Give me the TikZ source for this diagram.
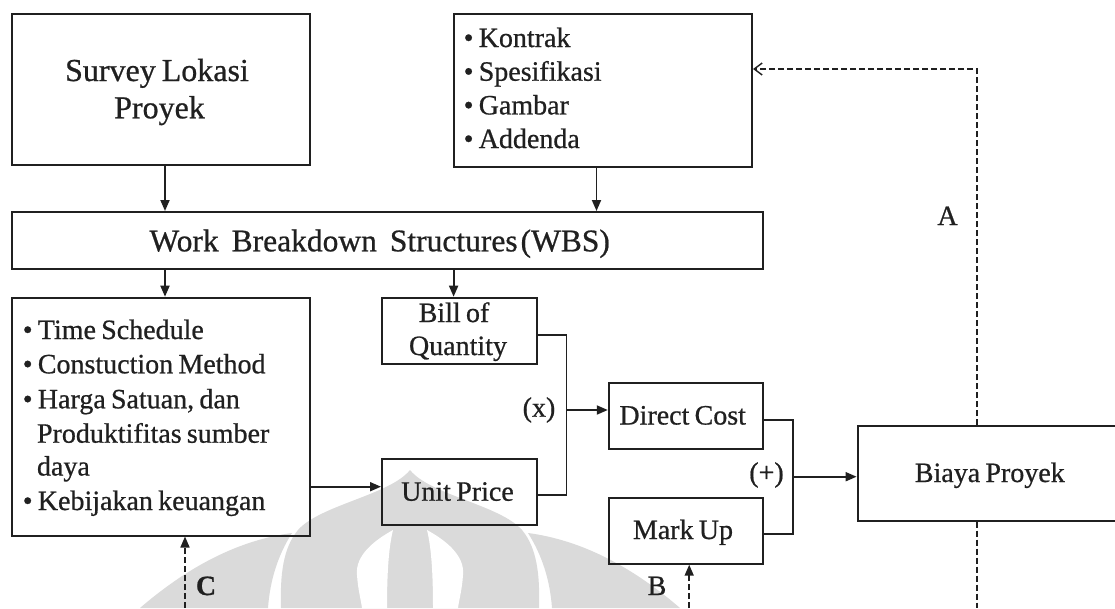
\documentclass[tikz,border=0pt]{standalone}
\usepackage{fontspec}
\setmainfont{Liberation Serif}[WordSpace=0.75,FakeBold=0.7]
\usetikzlibrary{arrows.meta}
\definecolor{ink}{RGB}{32,32,32}
\definecolor{wm}{RGB}{218,218,218}

\begin{document}
\begin{tikzpicture}[x=1pt,y=-1pt,
  box/.style={draw=ink, line width=2pt, inner sep=0pt, anchor=north west, rectangle},
  txt/.style={inner sep=0pt, text=ink, font=\fontsize{28}{34}\selectfont},
  lbl/.style={txt, anchor=base},
  link/.style={draw=ink, line width=1.8pt},
  arr/.style={link, -{Triangle[length=11pt,width=9pt]}},
  fb/.style={draw=ink, line width=1.6pt, dash pattern=on 6pt off 3pt},
  fbarr/.style={fb, -{Triangle[length=11pt,width=9pt]}},
  fbopen/.style={fb, -{Straight Barb[length=8pt,width=12pt,line width=1.4pt]}}
]
\useasboundingbox (0,0) rectangle (1115,608);
\clip (0,0) rectangle (1115,608);
\fill[white] (0,0) rectangle (1115,608);

% faint emblem in the background
\fill[wm] (410,470) .. controls (390,495) and (320,505) .. (298,530)
  .. controls (283,548) and (280,575) .. (281,608) -- (539,608)
  .. controls (540,575) and (537,548) .. (522,530)
  .. controls (500,505) and (430,495) .. (410,470) -- cycle;
\fill[white] (427,530) .. controls (445,540) and (465,555) .. (463,575)
  .. controls (462,590) and (459,600) .. (458,608) -- (433,608)
  .. controls (433,580) and (432,550) .. (427,530) -- cycle;
\fill[white] (393,530) .. controls (375,540) and (355,555) .. (357,575)
  .. controls (358,590) and (361,600) .. (362,608) -- (387,608)
  .. controls (387,580) and (388,550) .. (393,530) -- cycle;
\fill[wm] (140,608) .. controls (190,565) and (240,540) .. (292,533)
  .. controls (278,555) and (270,580) .. (268,608) -- cycle;
\fill[wm] (680,608) .. controls (630,565) and (580,540) .. (528,533)
  .. controls (542,555) and (550,580) .. (552,608) -- cycle;

% boxes
\node[box, minimum width=297.9pt, minimum height=151.6pt] (survey) at (11.4,12.7) {};
\node[box, minimum width=298.3pt, minimum height=153pt] (docs) at (452.7,12.7) {};
\node[box, minimum width=750.6pt, minimum height=57.3pt] (wbs) at (11.4,211) {};
\node[box, minimum width=297.9pt, minimum height=237.8pt] (sched) at (11.4,296.7) {};
\node[box, minimum width=154.7pt, minimum height=66.6pt] (boq) at (381,296.7) {};
\node[box, minimum width=154.7pt, minimum height=66pt] (unit) at (381,458.3) {};
\node[box, minimum width=154pt, minimum height=66pt] (direct) at (607.8,382.3) {};
\node[box, minimum width=154pt, minimum height=66pt] (markup) at (607.8,496.7) {};
\node[box, minimum width=280pt, minimum height=94.5pt] (biaya) at (856.6,425) {};

% box texts
\node[lbl, font=\fontsize{32}{38}\selectfont] (surveyA) at (157,81) {Survey Lokasi};
\node[lbl, font=\fontsize{32}{38}\selectfont] (surveyB) at (159.5,118.3) {Proyek};

\node[txt, anchor=base west] (d1) at (463.5,47) {• Kontrak};
\node[txt, anchor=base west] (d2) at (463.5,80.7) {• Spesifikasi};
\node[txt, anchor=base west] (d3) at (463.5,114.4) {• Gambar};
\node[txt, anchor=base west] (d4) at (463.5,148) {• Addenda};

\node[txt, anchor=base west, font=\fontsize{31.5}{38}\selectfont] (wbst) at (149.3,251.3)
  {Work\hspace{13pt}Breakdown\hspace{13pt}Structures\hspace{3pt}(WBS)};

\node[txt, anchor=base west] (s1) at (22.6,339) {• Time Schedule};
\node[txt, anchor=base west] (s2) at (22.6,373.3) {• Constuction Method};
\node[txt, anchor=base west] (s3) at (22.6,408.3) {• Harga Satuan, dan};
\node[txt, anchor=base west] (s4) at (36.8,442.7) {Produktifitas sumber};
\node[txt, anchor=base west] (s5) at (36.8,475.5) {daya};
\node[txt, anchor=base west] (s6) at (22.6,510) {• Kebijakan keuangan};

\node[lbl] (boqA) at (454,322) {Bill of};
\node[lbl] (boqB) at (458,355) {Quantity};
\node[lbl] (unitt) at (457.5,500.7) {Unit Price};
\node[lbl] (directt) at (682.7,424.5) {Direct Cost};
\node[lbl] (markupt) at (683,539) {Mark Up};
\node[lbl] (biayat) at (989.8,482) {Biaya Proyek};

% operator and feedback labels
\node[lbl] (times) at (539,416.7) {(x)};
\node[lbl] (plussign) at (766.5,481.7) {(+)};
\node[lbl] (la) at (947.5,225) {A};
\node[lbl, font=\fontsize{28}{34}\selectfont\bfseries] (lc) at (206,595) {C};
\node[lbl] (lb) at (657,595) {B};

% connector columns and rows
\coordinate (c1) at (165,0);
\coordinate (c2) at (596.5,0);
\coordinate (c3) at (453.6,0);
\coordinate (cC) at (185,608);
\coordinate (cB) at (689.2,608);
\coordinate (cA) at (977,608);
\coordinate (turnA) at (977,69);
\coordinate (mul) at (566.4,410);
\coordinate (plus) at (792.6,476.7);
\coordinate (r1) at (0,335);
\coordinate (r2) at (0,495);
\coordinate (r3) at (0,486.7);
\coordinate (r4) at (0,420);
\coordinate (r5) at (0,534);

% solid flow
\draw[arr] (c1 |- survey.south) -- (c1 |- wbs.north);
\draw[arr] (c2 |- docs.south) -- (c2 |- wbs.north);
\draw[arr] (c1 |- wbs.south) -- (c1 |- sched.north);
\draw[arr] (c3 |- wbs.south) -- (c3 |- boq.north);
\draw[arr] (sched.east |- r3) -- (unit.west |- r3);
\draw[link] (boq.east |- r1) -| (mul) |- (unit.east |- r2);
\draw[arr] (mul) -- (mul -| direct.west);
\draw[link] (direct.east |- r4) -| (plus) |- (markup.east |- r5);
\draw[arr] (plus) -- (plus -| biaya.west);

% dashed feedback
\draw[fbopen] (cA |- biaya.north) -- (turnA) -- (docs.east |- turnA);
\draw[fb] (cA |- biaya.south) -- (cA);
\draw[fbarr] (cC) -- (cC |- sched.south);
\draw[fbarr] (cB) -- (cB |- markup.south);
\end{tikzpicture}
\end{document}
